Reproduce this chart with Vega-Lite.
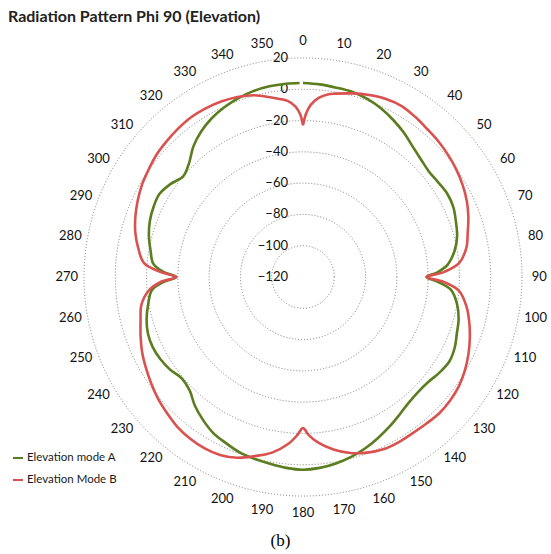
{
  "$schema": "https://vega.github.io/schema/vega-lite/v6.json",
  "width": 551,
  "height": 520,
  "autosize": "none",
  "padding": {"top": 0, "left": 0, "right": 0, "bottom": 34},
  "background": "white",
  "title": {"text": "Radiation Pattern Phi 90 (Elevation)", "anchor": "start", "frame": "group", "font": "Lato", "fontSize": 16, "fontWeight": "bold", "color": "#222222", "dx": 8, "dy": 25, "offset": 0},
  "config": {
    "view": {"stroke": null},
    "axisX": {"domain": false, "ticks": false, "labels": false, "grid": false, "titleFont": "Liberation Serif", "titleFontSize": 17, "titleFontWeight": "normal", "titleColor": "#000000", "titlePadding": 12, "titleX": 280}
  },
  "layer": [
    {
      "data": {"values": [{"level": -100}, {"level": -80}, {"level": -60}, {"level": -40}, {"level": -20}, {"level": 0}, {"level": 20}]},
      "transform": [{"calculate": "datum.level + 120", "as": "r"}],
      "mark": {"type": "point", "shape": "circle", "filled": false, "stroke": "#7a7a7a", "strokeWidth": 1, "strokeDash": [1, 2], "opacity": 1},
      "encoding": {
        "x": {"datum": 0, "type": "quantitative", "scale": {"domain": [-193.7, 158.54], "nice": false, "zero": false}, "axis": {"title": "(b)"}},
        "y": {"datum": 0, "type": "quantitative", "scale": {"domain": [-155.34, 177.07], "nice": false, "zero": false}, "axis": null},
        "size": {"field": "r", "type": "quantitative", "scale": {"type": "pow", "exponent": 2, "domain": [0, 140], "range": [0, 191844]}, "legend": null}
      }
    },
    {
      "data": {"values": [{"level": -120}, {"level": -100}, {"level": -80}, {"level": -60}, {"level": -40}, {"level": -20}, {"level": 0}, {"level": 20}]},
      "transform": [{"calculate": "datum.level + 120", "as": "r"}],
      "mark": {"type": "text", "align": "right", "baseline": "middle", "dx": -15, "font": "Lato", "fontSize": 13, "color": "#111111"},
      "encoding": {
        "x": {"datum": 0, "type": "quantitative", "axis": {"title": "(b)"}},
        "y": {"field": "r", "type": "quantitative", "axis": null},
        "text": {"field": "level", "type": "quantitative"}
      }
    },
    {
      "data": {"values": [{"angle": 0}, {"angle": 10}, {"angle": 20}, {"angle": 30}, {"angle": 40}, {"angle": 50}, {"angle": 60}, {"angle": 70}, {"angle": 80}, {"angle": 90}, {"angle": 100}, {"angle": 110}, {"angle": 120}, {"angle": 130}, {"angle": 140}, {"angle": 150}, {"angle": 160}, {"angle": 170}, {"angle": 180}, {"angle": 190}, {"angle": 200}, {"angle": 210}, {"angle": 220}, {"angle": 230}, {"angle": 240}, {"angle": 250}, {"angle": 260}, {"angle": 270}, {"angle": 280}, {"angle": 290}, {"angle": 300}, {"angle": 310}, {"angle": 320}, {"angle": 330}, {"angle": 340}, {"angle": 350}]},
      "transform": [
        {"calculate": "151 * sin(datum.angle * PI / 180)", "as": "lx"},
        {"calculate": "151 * cos(datum.angle * PI / 180)", "as": "ly"}
      ],
      "mark": {"type": "text", "align": "center", "baseline": "middle", "font": "Lato", "fontSize": 13, "color": "#111111"},
      "encoding": {
        "x": {"field": "lx", "type": "quantitative", "axis": {"title": "(b)"}},
        "y": {"field": "ly", "type": "quantitative", "axis": null},
        "text": {"field": "angle", "type": "quantitative"}
      }
    },
    {
      "data": {"values": [
        {"s": "A", "a": 0, "d": 4}, {"s": "A", "a": 5, "d": 3.6}, {"s": "A", "a": 10, "d": 2.9}, {"s": "A", "a": 15, "d": 2.4}, {"s": "A", "a": 20, "d": 1}, {"s": "A", "a": 25, "d": -1.3}, {"s": "A", "a": 30, "d": -4.3}, {"s": "A", "a": 35, "d": -7.5}, {"s": "A", "a": 40, "d": -11}, {"s": "A", "a": 45, "d": -13.5}, {"s": "A", "a": 50, "d": -15}, {"s": "A", "a": 55, "d": -14.5}, {"s": "A", "a": 60, "d": -13.5}, {"s": "A", "a": 65, "d": -14}, {"s": "A", "a": 70, "d": -16}, {"s": "A", "a": 75, "d": -18}, {"s": "A", "a": 80, "d": -21.5}, {"s": "A", "a": 85, "d": -27}, {"s": "A", "a": 88, "d": -34}, {"s": "A", "a": 90, "d": -41}, {"s": "A", "a": 92, "d": -34}, {"s": "A", "a": 95, "d": -25}, {"s": "A", "a": 100, "d": -20}, {"s": "A", "a": 105, "d": -17}, {"s": "A", "a": 110, "d": -15.3}, {"s": "A", "a": 115, "d": -13}, {"s": "A", "a": 120, "d": -12}, {"s": "A", "a": 125, "d": -13.5}, {"s": "A", "a": 130, "d": -15.5}, {"s": "A", "a": 135, "d": -16}, {"s": "A", "a": 140, "d": -15}, {"s": "A", "a": 145, "d": -12.5}, {"s": "A", "a": 150, "d": -9.5}, {"s": "A", "a": 155, "d": -6.5}, {"s": "A", "a": 160, "d": -3.5}, {"s": "A", "a": 165, "d": -1}, {"s": "A", "a": 170, "d": 1}, {"s": "A", "a": 175, "d": 2.5}, {"s": "A", "a": 180, "d": 3.2}, {"s": "A", "a": 185, "d": 2.5}, {"s": "A", "a": 190, "d": 1.3}, {"s": "A", "a": 195, "d": 0.3}, {"s": "A", "a": 200, "d": -0.8}, {"s": "A", "a": 205, "d": -3}, {"s": "A", "a": 210, "d": -5}, {"s": "A", "a": 215, "d": -8.5}, {"s": "A", "a": 220, "d": -12.5}, {"s": "A", "a": 225, "d": -17.5}, {"s": "A", "a": 230, "d": -19}, {"s": "A", "a": 235, "d": -16.5}, {"s": "A", "a": 240, "d": -14.8}, {"s": "A", "a": 245, "d": -14}, {"s": "A", "a": 250, "d": -14.5}, {"s": "A", "a": 255, "d": -16.5}, {"s": "A", "a": 260, "d": -19.5}, {"s": "A", "a": 265, "d": -23}, {"s": "A", "a": 268, "d": -31}, {"s": "A", "a": 270, "d": -39}, {"s": "A", "a": 272, "d": -31}, {"s": "A", "a": 275, "d": -24}, {"s": "A", "a": 280, "d": -21}, {"s": "A", "a": 285, "d": -18}, {"s": "A", "a": 290, "d": -15.8}, {"s": "A", "a": 295, "d": -14.5}, {"s": "A", "a": 300, "d": -14}, {"s": "A", "a": 305, "d": -16.5}, {"s": "A", "a": 310, "d": -20}, {"s": "A", "a": 315, "d": -17}, {"s": "A", "a": 320, "d": -11}, {"s": "A", "a": 325, "d": -6.5}, {"s": "A", "a": 330, "d": -3}, {"s": "A", "a": 335, "d": -0.5}, {"s": "A", "a": 340, "d": 1.5}, {"s": "A", "a": 345, "d": 3}, {"s": "A", "a": 350, "d": 3.8}, {"s": "A", "a": 355, "d": 4}, {"s": "A", "a": 359, "d": 4},
        {"s": "B", "a": 0, "d": -23}, {"s": "B", "a": 1, "d": -16}, {"s": "B", "a": 2.5, "d": -10}, {"s": "B", "a": 5, "d": -5}, {"s": "B", "a": 8, "d": -2}, {"s": "B", "a": 10, "d": -1}, {"s": "B", "a": 15, "d": 1.5}, {"s": "B", "a": 20, "d": 3.8}, {"s": "B", "a": 25, "d": 5.6}, {"s": "B", "a": 30, "d": 6.2}, {"s": "B", "a": 35, "d": 5}, {"s": "B", "a": 40, "d": 3.5}, {"s": "B", "a": 45, "d": 2.5}, {"s": "B", "a": 50, "d": 1.2}, {"s": "B", "a": 55, "d": -0.3}, {"s": "B", "a": 60, "d": -2.2}, {"s": "B", "a": 65, "d": -4.5}, {"s": "B", "a": 70, "d": -7.5}, {"s": "B", "a": 75, "d": -11}, {"s": "B", "a": 80, "d": -14}, {"s": "B", "a": 85, "d": -20}, {"s": "B", "a": 88, "d": -30}, {"s": "B", "a": 90, "d": -41}, {"s": "B", "a": 92, "d": -30}, {"s": "B", "a": 95, "d": -20}, {"s": "B", "a": 100, "d": -14}, {"s": "B", "a": 105, "d": -10}, {"s": "B", "a": 110, "d": -6.5}, {"s": "B", "a": 115, "d": -3.3}, {"s": "B", "a": 120, "d": -0.5}, {"s": "B", "a": 125, "d": 1.7}, {"s": "B", "a": 130, "d": 2.8}, {"s": "B", "a": 135, "d": 3.2}, {"s": "B", "a": 140, "d": 2.5}, {"s": "B", "a": 145, "d": 2}, {"s": "B", "a": 150, "d": 2}, {"s": "B", "a": 155, "d": 1.5}, {"s": "B", "a": 160, "d": -0.5}, {"s": "B", "a": 165, "d": -3.5}, {"s": "B", "a": 170, "d": -8}, {"s": "B", "a": 175, "d": -14}, {"s": "B", "a": 178, "d": -19}, {"s": "B", "a": 180, "d": -23.5}, {"s": "B", "a": 182, "d": -19}, {"s": "B", "a": 185, "d": -13}, {"s": "B", "a": 190, "d": -6}, {"s": "B", "a": 195, "d": -1.5}, {"s": "B", "a": 200, "d": 3}, {"s": "B", "a": 205, "d": 5.5}, {"s": "B", "a": 210, "d": 6.3}, {"s": "B", "a": 215, "d": 6}, {"s": "B", "a": 220, "d": 5}, {"s": "B", "a": 225, "d": 3}, {"s": "B", "a": 230, "d": 1}, {"s": "B", "a": 235, "d": -1.5}, {"s": "B", "a": 240, "d": -4}, {"s": "B", "a": 245, "d": -6.5}, {"s": "B", "a": 250, "d": -9.5}, {"s": "B", "a": 255, "d": -12.5}, {"s": "B", "a": 260, "d": -15}, {"s": "B", "a": 265, "d": -21}, {"s": "B", "a": 268, "d": -29}, {"s": "B", "a": 270, "d": -39}, {"s": "B", "a": 272, "d": -29}, {"s": "B", "a": 275, "d": -18}, {"s": "B", "a": 280, "d": -13}, {"s": "B", "a": 285, "d": -9}, {"s": "B", "a": 290, "d": -6}, {"s": "B", "a": 295, "d": -3.5}, {"s": "B", "a": 300, "d": -1.3}, {"s": "B", "a": 305, "d": 0.3}, {"s": "B", "a": 310, "d": 2}, {"s": "B", "a": 315, "d": 3}, {"s": "B", "a": 320, "d": 4}, {"s": "B", "a": 325, "d": 4.7}, {"s": "B", "a": 330, "d": 4.5}, {"s": "B", "a": 335, "d": 3.8}, {"s": "B", "a": 340, "d": 2.5}, {"s": "B", "a": 345, "d": 0.3}, {"s": "B", "a": 350, "d": -3.5}, {"s": "B", "a": 355, "d": -7}, {"s": "B", "a": 357.5, "d": -11}, {"s": "B", "a": 359, "d": -16}, {"s": "B", "a": 360, "d": -23}
      ]},
      "transform": [
        {"calculate": "(datum.d + 120) * sin(datum.a * PI / 180)", "as": "px"},
        {"calculate": "(datum.d + 120) * cos(datum.a * PI / 180)", "as": "py"}
      ],
      "mark": {"type": "line", "interpolate": "catmull-rom", "strokeWidth": 2.6},
      "encoding": {
        "x": {"field": "px", "type": "quantitative", "axis": {"title": "(b)"}},
        "y": {"field": "py", "type": "quantitative", "axis": null},
        "order": {"field": "a", "type": "quantitative"},
        "color": {"field": "s", "type": "nominal", "scale": {"domain": ["A", "B"], "range": ["#5a7d1e", "#d9524f"]},
          "legend": {"orient": "none", "legendX": 12, "legendY": 452, "title": null, "symbolType": "stroke", "symbolSize": 100, "symbolStrokeWidth": 2, "labelFont": "Lato", "labelFontSize": 11.5, "labelColor": "#1a1a1a", "labelOffset": 3, "rowPadding": 10, "padding": 0,
            "labelExpr": "datum.label == 'A' ? 'Elevation mode A' : 'Elevation Mode B'"}}
      }
    }
  ]
}
